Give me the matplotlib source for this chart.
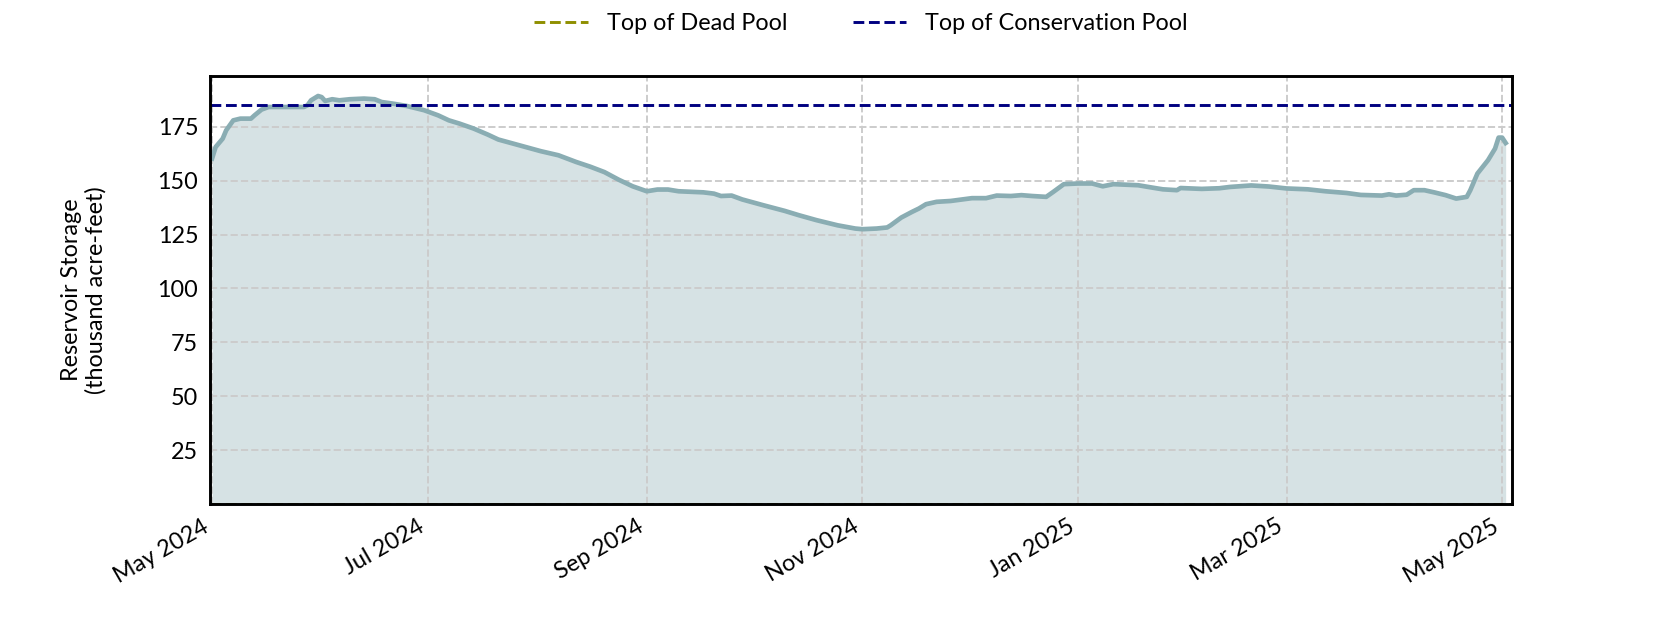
import numpy as np
import pandas as pd
import matplotlib
matplotlib.use("Agg")
import matplotlib.pyplot as plt
import matplotlib.dates as mdates

plt.rcParams['font.family'] = ['Lato', 'DejaVu Sans']
plt.rcParams['font.size'] = 12

# reservoir storage readings (thousand acre-feet)
dates = [
    '2024-05-01', '2024-05-02', '2024-05-04', '2024-05-05', '2024-05-07', '2024-05-09',
    '2024-05-12', '2024-05-13', '2024-05-15', '2024-05-17', '2024-05-21', '2024-05-27',
    '2024-05-28', '2024-05-29', '2024-05-31', '2024-06-01', '2024-06-02', '2024-06-04',
    '2024-06-06', '2024-06-09', '2024-06-13', '2024-06-16', '2024-06-18', '2024-06-21',
    '2024-06-25', '2024-06-30', '2024-07-04', '2024-07-07', '2024-07-10', '2024-07-14',
    '2024-07-18', '2024-07-21', '2024-07-27', '2024-08-02', '2024-08-07', '2024-08-12',
    '2024-08-16', '2024-08-20', '2024-08-24', '2024-08-28', '2024-09-01', '2024-09-04',
    '2024-09-07', '2024-09-10', '2024-09-17', '2024-09-20', '2024-09-22', '2024-09-25',
    '2024-09-28', '2024-10-04', '2024-10-10', '2024-10-14', '2024-10-19', '2024-10-25',
    '2024-10-30', '2024-11-01', '2024-11-05', '2024-11-08', '2024-11-09', '2024-11-12',
    '2024-11-15', '2024-11-17', '2024-11-19', '2024-11-22', '2024-11-26', '2024-12-02',
    '2024-12-06', '2024-12-09', '2024-12-13', '2024-12-16', '2024-12-19', '2024-12-23',
    '2024-12-25', '2024-12-28', '2025-01-01', '2025-01-05', '2025-01-08', '2025-01-11',
    '2025-01-18', '2025-01-22', '2025-01-25', '2025-01-29', '2025-01-30', '2025-02-05',
    '2025-02-10', '2025-02-13', '2025-02-19', '2025-02-24', '2025-03-01', '2025-03-07',
    '2025-03-12', '2025-03-18', '2025-03-22', '2025-03-28', '2025-03-30', '2025-04-01',
    '2025-04-04', '2025-04-06', '2025-04-09', '2025-04-12', '2025-04-15', '2025-04-18',
    '2025-04-21', '2025-04-22', '2025-04-24', '2025-04-27', '2025-04-29', '2025-04-30',
    '2025-05-01', '2025-05-02',
]
storage = [
    160.3, 165.6, 169.5, 173.4, 178.0, 178.8,
    178.8, 180.3, 183.0, 184.2, 184.2, 184.2,
    185.0, 187.3, 189.3, 188.8, 187.0, 187.8,
    187.3, 187.8, 188.1, 187.8, 186.5, 185.8,
    184.7, 182.7, 180.3, 178.0, 176.5, 174.2,
    171.4, 169.1, 166.4, 163.7, 161.8, 158.7,
    156.5, 154.0, 150.5, 147.4, 145.1, 145.9,
    145.9, 145.1, 144.6, 144.0, 142.9, 143.1,
    141.3, 138.6, 136.0, 134.0, 131.7, 129.3,
    127.8, 127.5, 127.8, 128.3, 129.3, 132.9,
    135.5, 137.1, 139.1, 140.2, 140.6, 141.9,
    141.9, 143.1, 142.9, 143.3, 142.9, 142.5,
    144.8, 148.4, 148.7, 148.7, 147.4, 148.4,
    147.9, 146.8, 146.0, 145.6, 146.6, 146.2,
    146.5, 147.1, 147.8, 147.3, 146.4, 146.0,
    145.1, 144.3, 143.4, 143.1, 143.7, 143.1,
    143.5, 145.6, 145.6, 144.5, 143.3, 141.7,
    142.5, 145.6, 153.3, 159.5, 164.9, 170.0,
    170.0, 167.5,
]
dead_pool = 0
conservation_pool = 185
y_ticks = [25, 50, 75, 100, 125, 150, 175]

df = pd.DataFrame({'date': pd.to_datetime(dates), 'storage': storage})

fig, ax = plt.subplots(figsize=(12, 4.5), dpi=140)

ax.fill_between(df['date'], df['storage'], 0, color='#8aadb3', alpha=0.35, linewidth=0)
ax.plot(df['date'], df['storage'], color='#8aadb3', linewidth=2.4)
ax.axhline(dead_pool, color='#8f8f00', linestyle='--', linewidth=1.5, label='Top of Dead Pool')
ax.axhline(conservation_pool, color='#000080', linestyle='--', linewidth=1.5,
           label='Top of Conservation Pool')

ax.set_xlim(pd.Timestamp('2024-04-30 10:00'), pd.Timestamp('2025-05-03 19:00'))
ax.set_ylim(0, max(storage) * 1.05)
ax.set_yticks(y_ticks)

ax.xaxis.set_major_locator(mdates.MonthLocator(bymonth=[1, 3, 5, 7, 9, 11]))
ax.xaxis.set_major_formatter(mdates.DateFormatter('%b %Y'))

ax.grid(True, linestyle='--', color='#cccccc', linewidth=1)
ax.tick_params(length=0, pad=6)
for s in ax.spines.values():
    s.set_linewidth(1.5)
    s.set_color('black')

ax.set_ylabel('Reservoir Storage\n(thousand acre-feet)', labelpad=26)

ax.legend(loc='center', bbox_to_anchor=(0.5, 1.122), ncol=2, frameon=False,
          handlelength=2.3, columnspacing=2.8)

fig.autofmt_xdate()
fig.subplots_adjust(left=0.125, right=0.9, top=0.88, bottom=0.2)

plt.savefig('out.png', dpi=140)
